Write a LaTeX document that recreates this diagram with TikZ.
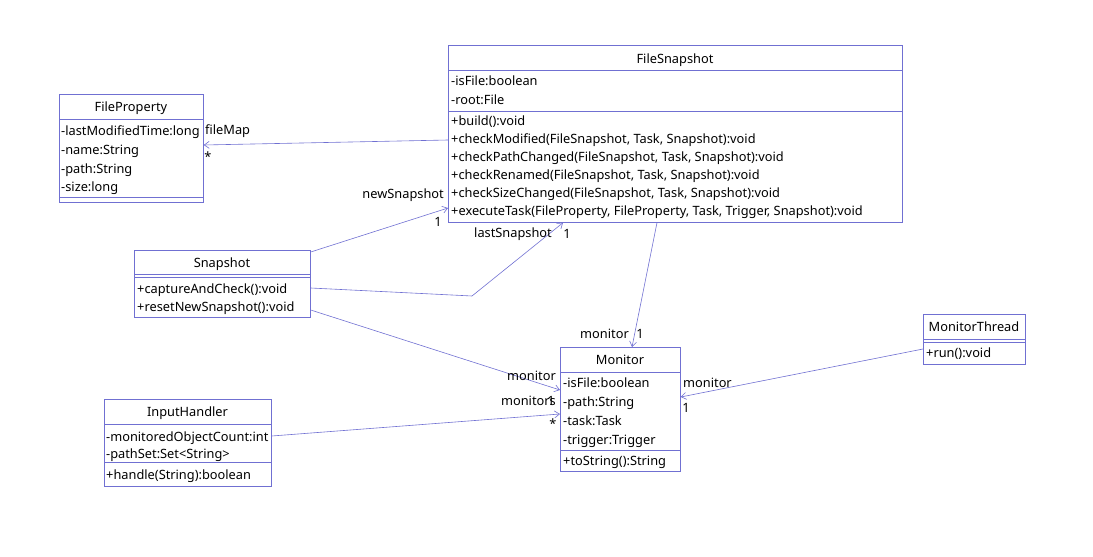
\documentclass[tikz,border=0pt]{standalone}
\usepackage{fontspec}
\setmainfont{Noto Sans}
\usetikzlibrary{arrows.meta}
\definecolor{umlline}{RGB}{112,112,210}
\tikzset{
  box/.style={draw=umlline, line width=0.7pt, inner sep=0pt, anchor=north west},
  sep/.style={draw=umlline, line width=0.7pt},
  txt/.style={anchor=base west, inner sep=0pt, font=\fontsize{12.8}{14}\selectfont},
  ttl/.style={anchor=base, inner sep=0pt, font=\fontsize{12.8}{14}\selectfont},
  lbl/.style={inner sep=0pt, font=\fontsize{12.8}{14}\selectfont},
  assoc/.style={draw=umlline, line width=0.6pt, -{Straight Barb[length=5pt,width=7pt]}}
}
\begin{document}
\begin{tikzpicture}[x=1pt,y=-1pt]
\useasboundingbox (0,0) rectangle (1093,557);
% ---------- FileSnapshot
\node[box, minimum width=454pt, minimum height=177pt] (fs) at (448,45) {};
\draw[sep] (448,70) -- (902,70) (448,111) -- (902,111);
\node[ttl] (fst) at (675,63) {FileSnapshot};
\node[txt] (fsa1) at (451,85) {-isFile:boolean};
\node[txt] (fsa2) at (451,104) {-root:File};
\node[txt] (fsm1) at (451,125) {+build():void};
\node[txt] (fsm2) at (451,143) {+checkModified(FileSnapshot, Task, Snapshot):void};
\node[txt] (fsm3) at (451,161) {+checkPathChanged(FileSnapshot, Task, Snapshot):void};
\node[txt] (fsm4) at (451,179) {+checkRenamed(FileSnapshot, Task, Snapshot):void};
\node[txt] (fsm5) at (451,197) {+checkSizeChanged(FileSnapshot, Task, Snapshot):void};
\node[txt] (fsm6) at (451,215) {+executeTask(FileProperty, FileProperty, Task, Trigger, Snapshot):void};
% ---------- FileProperty
\node[box, minimum width=144pt, minimum height=108pt] (fp) at (59,94) {};
\draw[sep] (59,119) -- (203,119) (59,197) -- (203,197);
\node[ttl] (fpt) at (131,111) {FileProperty};
\node[txt] (fpa1) at (61,135) {-lastModifiedTime:long};
\node[txt] (fpa2) at (61,154) {-name:String};
\node[txt] (fpa3) at (61,173) {-path:String};
\node[txt] (fpa4) at (61,191) {-size:long};
% ---------- Snapshot
\node[box, minimum width=176pt, minimum height=67pt] (sn) at (134,250) {};
\draw[sep] (134,274) -- (310,274) (134,277) -- (310,277);
\node[ttl] (snt) at (222,267) {Snapshot};
\node[txt] (snm1) at (137,293) {+captureAndCheck():void};
\node[txt] (snm2) at (137,311) {+resetNewSnapshot():void};
% ---------- InputHandler
\node[box, minimum width=167pt, minimum height=87pt] (ih) at (104,399) {};
\draw[sep] (104,424) -- (271,424) (104,462) -- (271,462);
\node[ttl] (iht) at (187.5,416) {InputHandler};
\node[txt] (iha1) at (106,441) {-monitoredObjectCount:int};
\node[txt] (iha2) at (106,458) {-pathSet:Set<String>};
\node[txt] (ihm1) at (106,479) {+handle(String):boolean};
% ---------- Monitor
\node[box, minimum width=120pt, minimum height=124pt] (mo) at (560,347) {};
\draw[sep] (560,372) -- (680,372) (560,450) -- (680,450);
\node[ttl] (mot) at (620,364) {Monitor};
\node[txt] (moa1) at (563,387) {-isFile:boolean};
\node[txt] (moa2) at (563,406) {-path:String};
\node[txt] (moa3) at (563,425) {-task:Task};
\node[txt] (moa4) at (563,444) {-trigger:Trigger};
\node[txt] (mom1) at (563,465) {+toString():String};
% ---------- MonitorThread
\node[box, minimum width=102pt, minimum height=50pt] (mt) at (923,314) {};
\draw[sep] (923,339) -- (1025,339) (923,342) -- (1025,342);
\node[ttl] (mtt) at (974,331) {MonitorThread};
\node[txt] (mtm1) at (926,357) {+run():void};
% ---------- connectors
\draw[assoc] (fs.west |- 0,140) -- (fp.east |- 0,145);
\node[lbl, anchor=west] (l1) at (205,131) {fileMap};
\node[lbl] (l2) at (208,157) {*};
\draw[assoc] (sn.east |- 0,252) -- (fs.west |- 0,208);
\node[lbl, anchor=east] (l3) at (444,195) {newSnapshot};
\node[lbl] (l4) at (438,222) {1};
\draw[assoc] (sn.east |- 0,288) -- (472,296) -- (563,0 |- fs.south);
\node[lbl, anchor=west] (l5) at (474,234) {lastSnapshot};
\node[lbl] (l6) at (567,234) {1};
\draw[assoc] (657,0 |- fs.south) -- (632,0 |- mo.north);
\node[lbl, anchor=east] (l7) at (629,334) {monitor};
\node[lbl] (l8) at (640,334) {1};
\draw[assoc] (sn.east |- 0,310) -- (mo.west |- 0,390);
\node[lbl, anchor=east] (l9) at (556,376) {monitor};
\node[lbl, anchor=east] (l10) at (556,401) {monitors};
\node[lbl] (l11) at (551,401) {1};
\draw[assoc] (ih.east |- 0,436) -- (mo.west |- 0,414);
\node[lbl] (l12) at (553,424) {*};
\draw[assoc] (mt.west |- 0,349) -- (mo.east |- 0,397);
\node[lbl, anchor=west] (l13) at (683,383) {monitor};
\node[lbl] (l14) at (686,408) {1};
\end{tikzpicture}
\end{document}
